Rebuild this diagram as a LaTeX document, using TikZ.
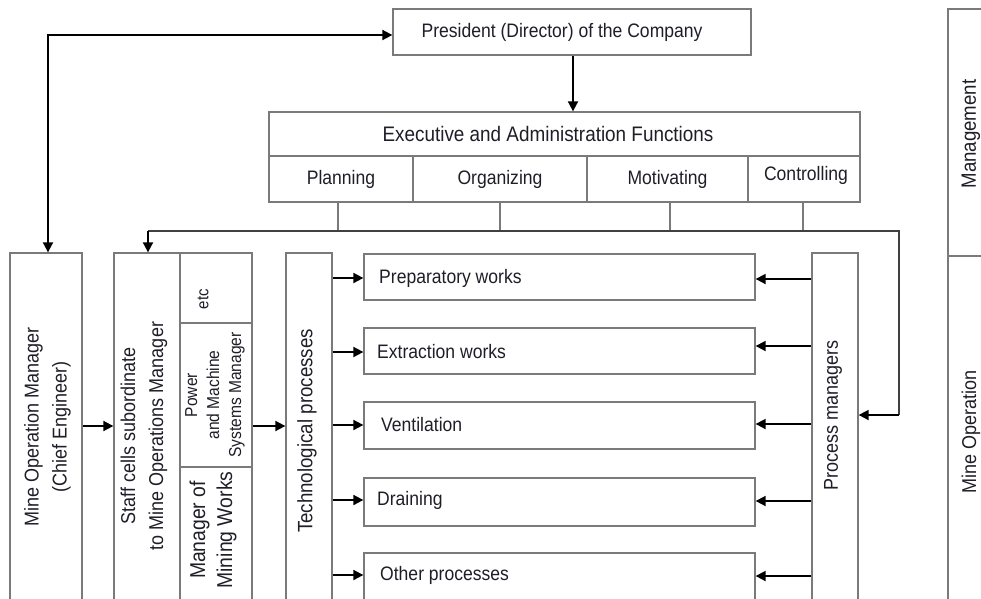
\documentclass[tikz,border=0pt]{standalone}
\usepackage{fontspec}
\setmainfont[FakeStretch=0.9]{Liberation Sans}
\usetikzlibrary{arrows.meta}
\definecolor{boxgray}{HTML}{7A7A7A}
\definecolor{txtc}{HTML}{1E1E28}
\begin{document}
\begin{tikzpicture}[x=1pt,y=-1pt,
  box/.style={draw=boxgray,line width=1.3pt,inner sep=0pt,rectangle},
  htxt/.style={text=txtc,inner sep=0pt,font=\fontsize{19.5}{23}\selectfont},
  vtxt/.style={text=txtc,inner sep=0pt,rotate=90,align=center,font=\fontsize{20}{28}\selectfont},
  arr/.style={draw=black,line width=1.8pt,-{Triangle[length=10pt,width=10pt]}},
  darr/.style={draw=black,line width=1.8pt,{Triangle[length=10pt,width=10pt]}-{Triangle[length=10pt,width=10pt]}},
  ln/.style={draw=boxgray,line width=1.3pt},
  bus/.style={draw=black!75,line width=1.5pt}]

\useasboundingbox (0,0) rectangle (981,598);
\clip (0,0) rectangle (981,598);

% top
\node[box,minimum width=358pt,minimum height=46pt] (pres) at (572,32) {};
\node[htxt] (prest) at (562,32) {President (Director) of the Company};

\node[box,minimum width=591pt,minimum height=44pt] (hdr) at (564.5,134) {};
\node[htxt,font=\fontsize{21}{24}\selectfont] (hdrt) at (548,134) {Executive and Administration Functions};
\node[box,minimum width=144pt,minimum height=46pt,htxt] (plan) at (341,179) {Planning};
\node[box,minimum width=174pt,minimum height=46pt,htxt] (org) at (500,179) {Organizing};
\node[box,minimum width=161pt,minimum height=46pt,htxt] (mot) at (667.5,179) {Motivating};
\node[box,minimum width=112pt,minimum height=46pt] (ctrl) at (804,179) {};
\node[htxt] (ctrlt) at (806,175) {Controlling};

\draw[arr] (pres.south -| 573,0) -- (hdr.north -| 573,0);

% left column boxes
\node[box,minimum width=72pt,minimum height=367pt] (mom) at (46,436.5) {};
\node[vtxt] (momt) at (47.5,427) {Mine Operation Manager\\(Chief Engineer)};

\node[box,minimum width=66pt,minimum height=367pt] (staff) at (147,436.5) {};
\node[vtxt] (stafft) at (144,436) {Staff cells subordinate\\to Mine Operations Manager};
\node[box,minimum width=72pt,minimum height=70pt] (etc) at (216,288) {};
\node[vtxt,font=\fontsize{16.7}{18}\selectfont] (etct) at (203,299) {etc};
\node[box,minimum width=72pt,minimum height=144pt] (pow) at (216,395) {};
\node[vtxt,font=\fontsize{17.3}{22}\selectfont] (powt) at (215,395) {Power\\and Machine\\Systems Manager};
\node[box,minimum width=72pt,minimum height=153pt] (mmw) at (216,543.5) {};
\node[vtxt,font=\fontsize{21.5}{27}\selectfont] (mmwt) at (213,530) {Manager of\\Mining Works};

\node[box,minimum width=46pt,minimum height=367pt] (tech) at (309,436.5) {};
\node[vtxt,font=\fontsize{20.8}{28}\selectfont] (techt) at (307,431) {Technological processes};

% process boxes
\node[box,minimum width=391pt,minimum height=46pt] (prep) at (559.5,277) {};
\node[box,minimum width=391pt,minimum height=46pt] (extr) at (559.5,351) {};
\node[box,minimum width=391pt,minimum height=47pt] (vent) at (559.5,425.5) {};
\node[box,minimum width=391pt,minimum height=48pt] (drain) at (559.5,502) {};
\node[box,minimum width=391pt,minimum height=60pt] (other) at (559.5,583) {};
\node[htxt,anchor=west] (prept) at (379,278) {Preparatory works};
\node[htxt,anchor=west] (extrt) at (377,352) {Extraction works};
\node[htxt,anchor=west] (ventt) at (381,425) {Ventilation};
\node[htxt,anchor=west] (draint) at (377,500) {Draining};
\node[htxt,anchor=west] (othert) at (380,575) {Other processes};

\node[box,minimum width=46pt,minimum height=367pt] (pm) at (835,436.5) {};
\node[vtxt] (pmt) at (833,415) {Process managers};

% right column
\node[box,minimum width=50pt,minimum height=247pt] (mgmt) at (973,132.5) {};
\node[box,minimum width=50pt,minimum height=364pt] (mop) at (973,438) {};
\node[vtxt,font=\fontsize{20.7}{28}\selectfont] (mgmtt) at (971,134) {Management};
\node[vtxt] (mopt) at (971,432) {Mine Operation};

% connectors from functions
\coordinate (busL) at (148,231);
\coordinate (busR) at (899,231);
\coordinate (pmy) at (0,415);
\foreach \n/\x in {plan/338,org/500,mot/670,ctrl/803}{
  \draw[ln] (\n.south -| \x,0) -- (\x,231);
}
\draw[bus] (busL) -- (busR) -- (busR |- pmy);
\draw[arr] (busR |- pmy) -- (pm.east |- pmy);
\draw[arr] (busL) -- (staff.north -| busL);

% president <-> mine operation manager
\coordinate (pl) at (48,35);
\draw[darr] (mom.north -| pl) -- (pl) -- (pres.west |- pl);

% horizontal flow
\coordinate (fy) at (0,426);
\draw[arr] (mom.east |- fy) -- (staff.west |- fy);
\draw[arr] (pow.east |- fy) -- (tech.west |- fy);

\foreach \b/\y/\z in {prep/278/279,extr/352/346,vent/425/424,drain/500/501,other/575/576}{
  \draw[arr] (tech.east |- 0,\y) -- (\b.west |- 0,\y);
  \draw[arr] (pm.west |- 0,\z) -- (\b.east |- 0,\z);
}
\end{tikzpicture}
\end{document}
